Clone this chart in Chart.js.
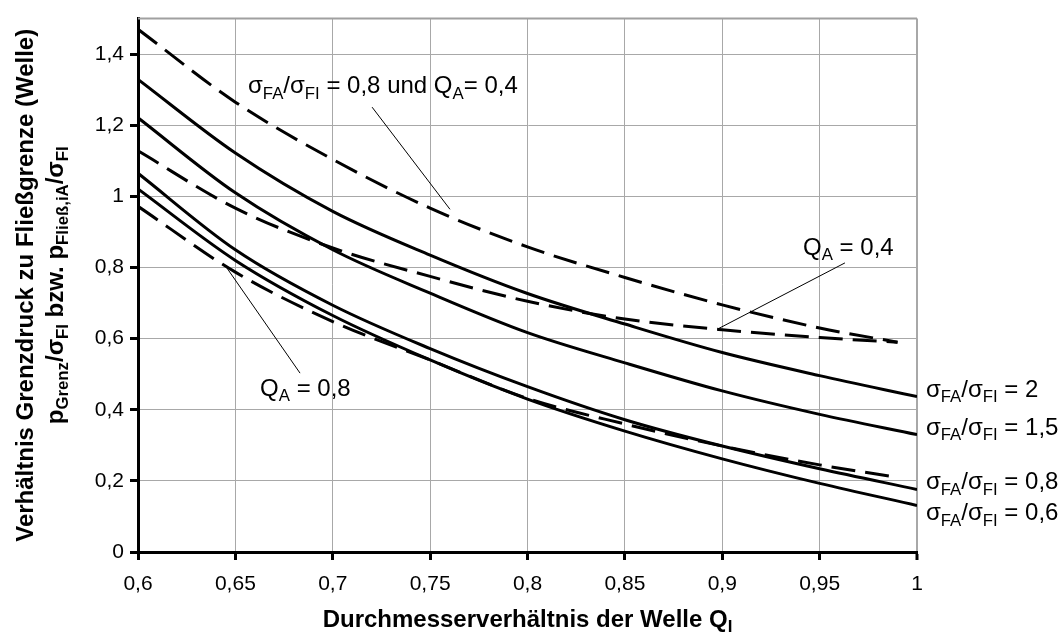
<!DOCTYPE html>
<html>
<head>
<meta charset="utf-8">
<script src="https://cdn.jsdelivr.net/npm/chart.js@4"></script>
<style>
  body { margin: 0; background: #fff; }
  #wrap { width: 1062px; height: 634px; }
</style>
</head>
<body>
<div id="wrap"><canvas id="myChart"></canvas></div>
<script>
// x-Werte (Durchmesserverhältnis Q_I)
const xValues = [0.6, 0.65, 0.7, 0.75, 0.8, 0.85, 0.9, 0.95, 1.0];
const xDashed = [0.6, 0.65, 0.7, 0.75, 0.8, 0.85, 0.9, 0.95, 0.99];

// durchgezogene Kurven
const sigma2 = [1.329, 1.122, 0.958, 0.835, 0.727, 0.641, 0.561, 0.496, 0.437];
const sigma15 = [1.221, 1.01, 0.85, 0.728, 0.617, 0.532, 0.453, 0.387, 0.33];
const sigma08 = [1.065, 0.85, 0.694, 0.572, 0.465, 0.372, 0.298, 0.234, 0.176];
const sigma06 = [1.021, 0.82, 0.665, 0.54, 0.43, 0.34, 0.262, 0.193, 0.131];

// gestrichelte Kurven
const dashTop = [1.47, 1.265, 1.104, 0.967, 0.858, 0.772, 0.695, 0.63, 0.59];
const dashQa04 = [1.128, 0.967, 0.855, 0.775, 0.705, 0.655, 0.625, 0.603, 0.59];
const dashQa08 = [0.972, 0.787, 0.648, 0.54, 0.432, 0.36, 0.298, 0.245, 0.21];

const FONT = '"Liberation Sans", Arial, sans-serif';

const toPoints = (xs, ys) => ys.map((y, i) => ({ x: xs[i], y: y }));
const fmt = v => String(Math.round(v * 100) / 100).replace(".", ",");

function solid(data) {
  return { data: data, borderColor: "#000", borderWidth: 3, pointRadius: 0,
           cubicInterpolationMode: "monotone", fill: false };
}
function dashed(data) {
  return { data: data, borderColor: "#000", borderWidth: 3, pointRadius: 0,
           borderDash: [24, 10], cubicInterpolationMode: "monotone", fill: false };
}

// Text mit Tiefstellungen: [text, sub]
function drawRich(ctx, parts, x, y, size, bold, align) {
  const b = bold ? "bold " : "";
  let total = 0;
  parts.forEach(p => {
    ctx.font = b + (p[1] ? size * 0.7 : size) + "px " + FONT;
    total += ctx.measureText(p[0]).width;
  });
  if (align === "center") x -= total / 2;
  ctx.textAlign = "left";
  ctx.textBaseline = "alphabetic";
  parts.forEach(p => {
    ctx.font = b + (p[1] ? size * 0.7 : size) + "px " + FONT;
    ctx.fillText(p[0], x, y + (p[1] ? size * 0.22 : 0));
    x += ctx.measureText(p[0]).width;
  });
}

const sigmaLabel = val => [["σ", 0], ["FA", 1], ["/σ", 0], ["FI", 1], [" = " + val, 0]];

const labels = [
  { at: [0.6565, 1.29], parts: [["σ", 0], ["FA", 1], ["/σ", 0], ["FI", 1], [" = 0,8 und Q", 0], ["A", 1], ["= 0,4", 0]] },
  { at: [0.9415, 0.835], parts: [["Q", 0], ["A", 1], [" = 0,4", 0]] },
  { at: [0.6627, 0.4385], parts: [["Q", 0], ["A", 1], [" = 0,8", 0]] },
  { at: [1.0046, 0.436], parts: sigmaLabel("2") },
  { at: [1.0046, 0.33], parts: sigmaLabel("1,5") },
  { at: [1.0046, 0.176], parts: sigmaLabel("0,8") },
  { at: [1.0046, 0.089], parts: sigmaLabel("0,6") },
];
const leaders = [
  [[0.7202, 1.251], [0.7602, 0.9637]],
  [[0.963, 0.813], [0.898, 0.628]],
  [[0.6832, 0.503], [0.6442, 0.81]],
];

const textPlugin = {
  id: "texts",
  afterDatasetsDraw(chart) {
    const { ctx, chartArea: a, scales: { x, y } } = chart;
    ctx.save();
    // obere Rahmenlinie
    ctx.strokeStyle = "#a0a0a0";
    ctx.lineWidth = 2;
    ctx.beginPath();
    ctx.moveTo(a.left, a.top);
    ctx.lineTo(a.right, a.top);
    ctx.stroke();

    ctx.strokeStyle = "#000";
    ctx.lineWidth = 1;
    leaders.forEach(l => {
      ctx.beginPath();
      ctx.moveTo(x.getPixelForValue(l[0][0]), y.getPixelForValue(l[0][1]));
      ctx.lineTo(x.getPixelForValue(l[1][0]), y.getPixelForValue(l[1][1]));
      ctx.stroke();
    });

    ctx.fillStyle = "#000";
    labels.forEach(l => {
      drawRich(ctx, l.parts, x.getPixelForValue(l.at[0]), y.getPixelForValue(l.at[1]), 24, false, "left");
    });

    // Achsentitel
    const cx = (a.left + a.right) / 2;
    const cy = (a.top + a.bottom) / 2;
    drawRich(ctx, [["Durchmesserverhältnis der Welle Q", 0], ["I", 1]], cx, 627, 24, true, "center");

    ctx.translate(33, cy);
    ctx.rotate(-Math.PI / 2);
    drawRich(ctx, [["Verhältnis Grenzdruck zu Fließgrenze (Welle)", 0]], 0, 0, 24, true, "center");
    drawRich(ctx, [["p", 0], ["Grenz", 1], ["/σ", 0], ["FI", 1], [" bzw. p", 0], ["Fließ,iA", 1], ["/σ", 0], ["FI", 1]],
             0, 30, 24, true, "center");
    ctx.restore();
  }
};

document.addEventListener("DOMContentLoaded", () => {
  const ctx = document.getElementById("myChart").getContext("2d");

  new Chart(ctx, {
    type: "line",
    data: {
      datasets: [
        dashed(toPoints(xDashed, dashTop)),
        dashed(toPoints(xDashed, dashQa04)),
        dashed(toPoints(xDashed, dashQa08)),
        solid(toPoints(xValues, sigma2)),
        solid(toPoints(xValues, sigma15)),
        solid(toPoints(xValues, sigma08)),
        solid(toPoints(xValues, sigma06)),
      ],
    },
    options: {
      responsive: true,
      maintainAspectRatio: false,
      animation: false,
      layout: { padding: { top: 15, right: 145, left: 0, bottom: 0 } },
      plugins: { legend: { display: false }, tooltip: { enabled: false } },
      scales: {
        x: {
          type: "linear",
          min: 0.6,
          max: 1,
          afterFit: s => { s.height = 82; },
          ticks: { stepSize: 0.05, callback: fmt, color: "#000", padding: 12,
                   maxRotation: 0, font: { size: 21, family: FONT } },
          grid: { color: "#a8a8a8", lineWidth: c => (c.tick && c.tick.value >= 0.999 ? 2 : 1),
                  tickColor: "#000", tickLength: 8, tickWidth: 3 },
          border: { color: "#000", width: 3 },
        },
        y: {
          min: 0,
          max: 1.5,
          afterFit: s => { s.width = 138; },
          ticks: { stepSize: 0.2, includeBounds: false, callback: fmt, color: "#000", padding: 6,
                   font: { size: 21, family: FONT } },
          grid: { color: "#a8a8a8", tickColor: "#000", tickLength: 8, tickWidth: 3 },
          border: { color: "#000", width: 3 },
        },
      },
    },
    plugins: [textPlugin],
  });
});
</script>
</body>
</html>
